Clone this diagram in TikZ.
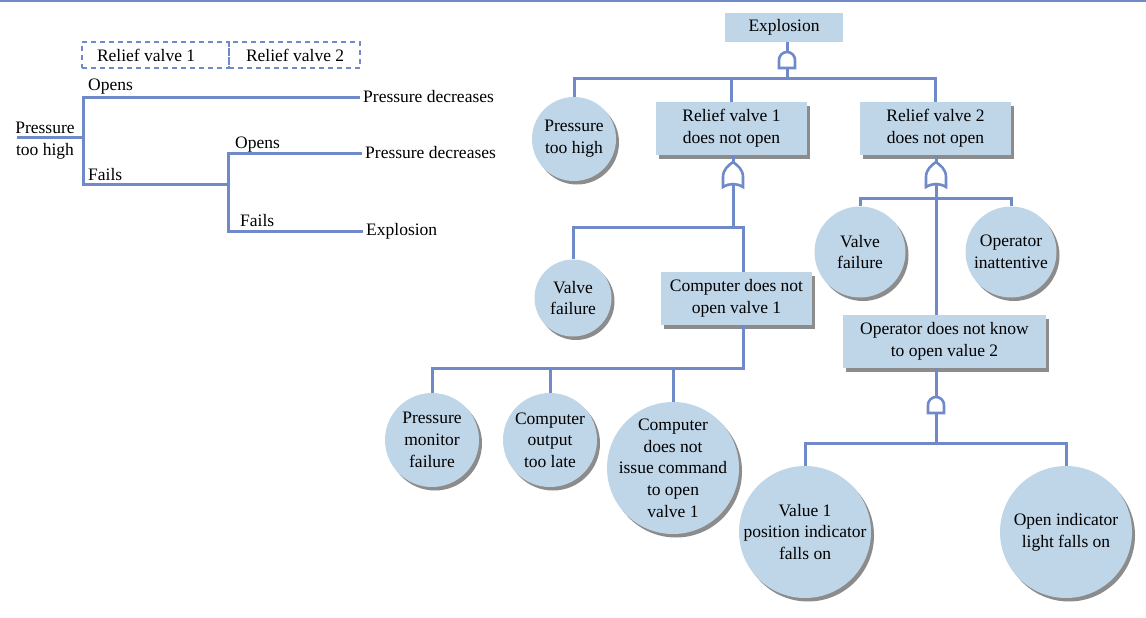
\documentclass[tikz,border=0pt]{standalone}
\usepackage{fontspec}
\setmainfont{Liberation Serif}
\usepackage{tikz}
\usetikzlibrary{shadows}

\definecolor{ftfill}{RGB}{191,214,233}
\definecolor{ftline}{RGB}{112,137,201}
\definecolor{ftshade}{RGB}{140,140,140}

\tikzset{
  every node/.style={font=\fontsize{17.5}{21.7}\selectfont},
  every label/.style={align=center, inner sep=0pt},
  wire/.style={draw=ftline, line width=3pt},
  dropped/.style={drop shadow={shadow xshift=3pt, shadow yshift=-3.5pt, fill=ftshade, opacity=1}},
  eventbox/.style={rectangle, fill=ftfill, minimum width=151pt, minimum height=53pt, inner sep=0pt, align=center},
  basic/.style={circle, fill=ftfill, minimum size=#1, inner sep=0pt, dropped},
  dashbox/.style={draw=ftline, dash pattern=on 5pt off 4pt, line width=2.4pt, minimum height=26pt, inner ysep=0pt, inner xsep=13pt},
  branch/.style={anchor=base west, inner sep=0pt},
  outcome/.style={anchor=west, inner sep=3pt},
  andgate/.pic={
    \draw[wire, line width=2.6pt, fill=white] (-8,-8) -- (-8,0) arc (180:0:8) -- (8,-8) -- cycle;
    \coordinate (-top) at (0,8);
    \coordinate (-bot) at (0,-8);
  },
  orgate/.pic={
    \draw[wire, line width=2.6pt, fill=white] (-10,-12) -- (-10,-2) .. controls (-10,6) and (-4,10) .. (0,13) .. controls (4,10) and (10,6) .. (10,-2) -- (10,-12) .. controls (3,-8) and (-3,-8) .. (-10,-12) -- cycle;
    \coordinate (-top) at (0,13);
    \coordinate (-bot) at (0,-9);
  }
}

\begin{document}
\begin{tikzpicture}[x=1pt, y=1pt]
  \useasboundingbox (0,0) rectangle (1146,-618);
  \draw[wire, line width=2.4pt] (0,-1) -- (1146,-1);

  % event tree
  \node[dashbox] (hdr1) at (155.5,-55) {\makebox[121pt][l]{\hspace{2pt}Relief valve 1}};
  \node[dashbox] (hdr2) at (294.5,-55) {\makebox[105pt][l]{\hspace{4pt}Relief valve 2}};
  \node[align=center, inner sep=2pt] (root) at (45,-140.7) {Pressure\\too high};
  \coordinate (s0) at (17,-137);
  \coordinate (s1) at (83,-137);
  \coordinate (s1u) at (83,-97);
  \coordinate (s1d) at (83,-184);
  \coordinate (s2) at (228,-184);
  \coordinate (s2u) at (228,-153);
  \coordinate (s2d) at (228,-231);
  \node[outcome] (out1) at (360,-97) {Pressure decreases};
  \node[outcome] (out2) at (362,-153) {Pressure decreases};
  \node[outcome] (out3) at (363,-231) {Explosion};
  \node[branch] (o1) at (88,-91) {Opens};
  \node[branch] (f1) at (88,-180) {Fails};
  \node[branch] (o2) at (235,-148) {Opens};
  \node[branch] (f2) at (240,-226) {Fails};
  \draw[wire] (s0) -- (s1);
  \draw[wire] (out1.west) -- (s1u) -- (s1d) -- (s2);
  \draw[wire] (out2.west) -- (s2u) -- (s2d) -- (out3.west);

  % fault tree
  \node[eventbox, minimum width=118pt, minimum height=29pt] (top) at (784,-27.5) {Explosion};
  \pic (gA) at (787,-60) {andgate};
  \node[basic=84pt, label={center:{Pressure\\too high}}] (pth) at (574,-139) {};
  \node[eventbox, dropped] (rv1) at (731.5,-128.5) {Relief valve 1\\does not open};
  \node[eventbox, dropped] (rv2) at (935.5,-128.5) {Relief valve 2\\does not open};
  \pic (gB) at (733,-175) {orgate};
  \pic (gC) at (936,-175) {orgate};
  \node[basic=77pt, label={center:{Valve\\failure}}] (vf1) at (573,-298) {};
  \node[eventbox, dropped] (cdo) at (736.5,-298.5) {Computer does not\\open valve 1};
  \node[basic=94pt, label={center:{Pressure\\monitor\\failure}}] (pmf) at (432,-440) {};
  \node[basic=94pt, label={center:{Computer\\output\\too late}}] (cotl) at (550,-440) {};
  \node[basic=132pt, label={center:{Computer\\does not\\issue command\\to open\\valve 1}}] (cdni) at (673,-468) {};
  \node[basic=91pt, label={center:{Valve\\failure}}] (vf2) at (860,-252) {};
  \node[basic=91pt, label={center:{Operator\\inattentive}}] (oin) at (1011,-252) {};
  \node[eventbox, dropped, minimum width=203pt] (odk) at (944.5,-341.5) {Operator does not know\\to open value 2};
  \pic (gD) at (936,-405) {andgate};
  \node[basic=132pt, label={center:{Value 1\\position indicator\\falls on}}] (v1) at (805,-532) {};
  \node[basic=132pt, label={center:{Open indicator\\light falls on}}] (oil) at (1066,-532) {};

  \coordinate (jA) at (787,-79);
  \coordinate (jB) at (733,-227);
  \coordinate (jC) at (743,-368);
  \coordinate (jD) at (936,-198);
  \coordinate (jE) at (936,-443);
  \draw[wire] (gA-top |- top.south) -- (gA-top);
  \draw[wire] (gA-bot) -- (jA);
  \draw[wire] (pth.north) |- (jA) -| (rv2.north);
  \draw[wire] (jA) -| (rv1.north);
  \draw[wire] (gB-top |- rv1.south) -- (gB-top);
  \draw[wire] (gB-bot) -- (jB);
  \draw[wire] (vf1.north) |- (jB) -| ([xshift=6.5pt]cdo.north);
  \draw[wire] ([xshift=6.5pt]cdo.south) -- (jC) -| (pmf.north);
  \draw[wire] (cotl.north) -- (cotl.north |- jC);
  \draw[wire] (cdni.north) -- (cdni.north |- jC);
  \draw[wire] (gC-top |- rv2.south) -- (gC-top);
  \draw[wire] (gC-bot) -- (gC-bot |- odk.north);
  \draw[wire] (vf2.north) |- (jD) -| (oin.north);
  \draw[wire] (gD-top |- odk.south) -- (gD-top);
  \draw[wire] (gD-bot) -- (jE);
  \draw[wire] (v1.north) |- (jE) -| (oil.north);
\end{tikzpicture}
\end{document}
